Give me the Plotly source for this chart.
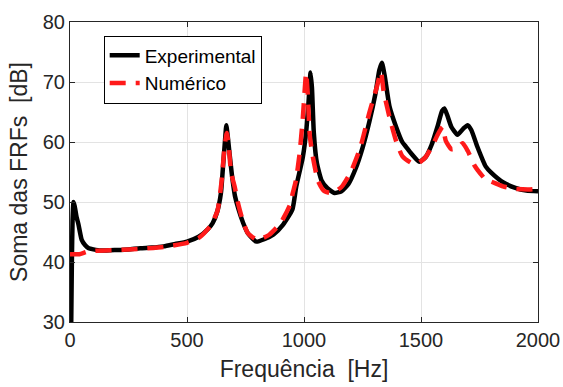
import plotly.graph_objects as go

# Experimental curve (Hz, dB)
freq_exp = [5, 8, 11, 15, 20, 28, 36, 50, 65, 80, 100, 130, 200, 250, 300, 350, 400, 450, 500,
            550, 590, 610, 630, 645, 655, 663, 668, 674, 682, 692, 705, 720, 740, 760, 796,
            830, 870, 910, 950, 967, 995, 1010, 1020, 1028, 1034, 1042, 1055, 1075, 1100,
            1130, 1160, 1190, 1220, 1250, 1280, 1305, 1322, 1333, 1345, 1365, 1393, 1420,
            1436, 1460, 1493, 1520, 1545, 1570, 1590, 1600, 1612, 1630, 1656, 1680, 1699,
            1715, 1740, 1777, 1800, 1850, 1900, 1950, 2000]
db_exp = [29.0, 40.0, 47.0, 50.0, 49.3, 47.5, 46.3, 43.7, 42.8, 42.3, 42.1, 41.9, 42.0, 42.1,
          42.3, 42.4, 42.6, 43.0, 43.4, 44.2, 45.5, 46.5, 48.5, 51.5, 56.5, 60.5, 62.8, 61.0,
          58.0, 54.5, 51.0, 48.8, 46.5, 44.8, 43.4, 43.8, 44.6, 46.2, 48.7, 52.6, 57.5, 62.0,
          67.0, 71.6, 69.0, 61.5, 56.5, 53.6, 52.3, 51.5, 51.8, 53.0, 55.5, 59.0, 63.5, 68.0,
          72.0, 73.2, 71.0, 66.0, 62.6, 60.0, 59.2, 58.0, 56.7, 57.5, 59.5, 62.5, 65.2, 65.6,
          64.5, 62.5, 61.2, 62.2, 62.8, 62.0, 59.3, 55.9, 54.9, 53.3, 52.4, 51.9, 51.8]

# Numerical curve (Hz, dB)
freq_num = [0, 40, 80, 200, 300, 400, 500, 550, 600, 630, 648, 660, 670, 678, 688, 704, 720,
            739, 760, 800, 850, 900, 940, 952, 965, 981, 995, 1009, 1016, 1025, 1038, 1060,
            1087, 1120, 1160, 1200, 1240, 1280, 1310, 1329, 1340, 1365, 1395, 1421, 1460,
            1490, 1520, 1550, 1575, 1592, 1606, 1630, 1655, 1678, 1700, 1730, 1777, 1800,
            1850, 1900, 1960, 2000]
db_num = [41.3, 41.3, 41.8, 42.0, 42.2, 42.5, 43.2, 44.0, 46.0, 48.5, 53.5, 59.0, 61.5, 59.5,
          55.0, 52.5, 49.5, 46.8, 44.8, 43.7, 44.5, 46.5, 49.5, 51.5, 53.5, 58.0, 64.0, 71.5,
          68.0, 61.0, 57.5, 53.5, 51.8, 51.5, 52.5, 55.0, 59.0, 65.0, 69.0, 71.7, 68.5, 64.2,
          60.0, 57.6, 56.5, 56.5, 57.5, 59.5, 61.5, 62.5, 60.2, 58.8, 59.0, 59.8, 58.5, 56.0,
          53.7, 53.4, 52.6, 52.2, 52.1, 52.2]

x_ticks = [0, 500, 1000, 1500, 2000]
y_ticks = [30, 40, 50, 60, 70, 80]

FONT = "Liberation Sans, Arial, sans-serif"

fig = go.Figure()
fig.add_trace(go.Scatter(
    x=freq_exp, y=db_exp, mode="lines", name="Experimental",
    line=dict(color="black", width=4.5, shape="spline", smoothing=0.5)))
fig.add_trace(go.Scatter(
    x=freq_num, y=db_num, mode="lines", name="Numérico",
    line=dict(color="#ff1a1a", width=4.5, dash="16px,10px", shape="spline", smoothing=0.5)))

axis_common = dict(
    showline=True, linecolor="#262626", linewidth=1, mirror="ticks",
    ticks="inside", ticklen=5, tickcolor="#262626",
    showgrid=True, gridcolor="#e3e3e3", gridwidth=1, zeroline=False,
    automargin=False,
    tickfont=dict(family=FONT, size=20, color="#262626"),
)

fig.update_layout(
    width=563, height=387,
    margin=dict(l=70, r=25, t=22, b=65),
    paper_bgcolor="white", plot_bgcolor="white",
    font=dict(family=FONT, color="#262626"),
    xaxis=dict(range=[0, 2000], tickvals=x_ticks,
               title=dict(text="Frequência  [Hz]", font=dict(family=FONT, size=23, color="#262626"),
                          standoff=10),
               **axis_common),
    yaxis=dict(range=[30, 80], tickvals=y_ticks,
               title=dict(text="Soma das FRFs  [dB]", font=dict(family=FONT, size=23, color="#262626"),
                          standoff=8),
               **axis_common),
    legend=dict(x=0.072, y=0.955, xanchor="left", yanchor="top",
                bgcolor="white", bordercolor="black", borderwidth=1,
                font=dict(family=FONT, size=19, color="black"),
                tracegroupgap=0),
    showlegend=True,
)

fig.write_html("out.html")
